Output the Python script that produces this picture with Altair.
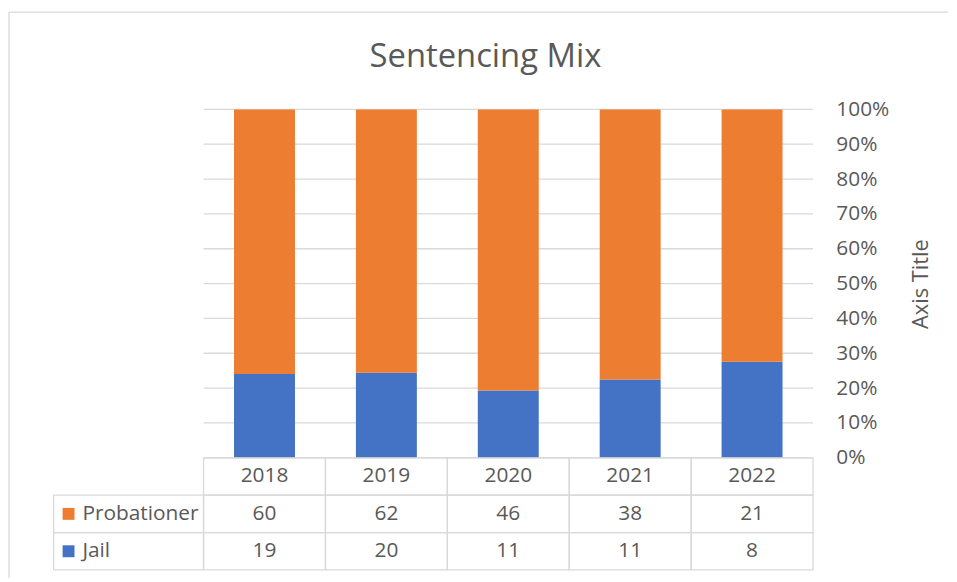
import altair as alt
import pandas as pd

# ---- data ----
years = [2018, 2019, 2020, 2021, 2022]
probationer = [60, 62, 46, 38, 21]
jail = [19, 20, 11, 11, 8]
series = ["Probationer", "Jail"]
series_colors = ["#ED7D31", "#4472C4"]
pct_ticks = [0.0, 0.1, 0.2, 0.3, 0.4, 0.5, 0.6, 0.7, 0.8, 0.9, 1.0]
title_text = "Sentencing Mix"
axis_title = "Axis Title"

# ---- layout (in scale units) ----
STEP = 122.8          # px per category
UNIT = 351.0          # px per 100%
X_MIN = 2017.5 - 196 / STEP
X_MAX = 2022.5
PLOT_W = round((X_MAX - X_MIN) * STEP)
PLOT_H = 472
Y_MIN = -(PLOT_H / UNIT - 1.0)
ROW_H = 113 / 3 / UNIT
LABEL_X0 = 2017.5 - 151 / STEP
SQUARE_X = 2017.5 - 136 / STEP
LABEL_TX = 2017.5 - 122 / STEP
BORDER_TOP = 1 + 98 / UNIT
BORDER_RIGHT = 2022.5 + 136 / STEP
TITLE_X = X_MIN + 480 / STEP
TITLE_Y = 1 + 43 / UNIT

TEXT = "#595959"
LINE = "#d9d9d9"
FONT = "Open Sans"

# ---- tables built from the arrays ----
bar_rows = []
for yr, p, j in zip(years, probationer, jail):
    tot = p + j
    bar_rows.append(dict(series="Jail", x0=yr - 0.25, x1=yr + 0.25, y0=0.0, y1=j / tot))
    bar_rows.append(dict(series="Probationer", x0=yr - 0.25, x1=yr + 0.25, y0=j / tot, y1=1.0))
bars_df = pd.DataFrame(bar_rows)

grid_df = pd.DataFrame({"y": pct_ticks, "x0": 2017.5, "x1": X_MAX})

cells = []
texts = []
for yr in years:
    cells.append(dict(x0=yr - 0.5, x1=yr + 0.5, y0=0.0, y1=-ROW_H))
    texts.append(dict(x=yr, y=-0.5 * ROW_H, label=str(yr)))
for r, (name, vals) in enumerate(zip(series, [probationer, jail])):
    top = -(r + 1) * ROW_H
    bot = -(r + 2) * ROW_H
    cells.append(dict(x0=LABEL_X0, x1=2017.5, y0=top, y1=bot))
    for yr, v in zip(years, vals):
        cells.append(dict(x0=yr - 0.5, x1=yr + 0.5, y0=top, y1=bot))
        texts.append(dict(x=yr, y=(top + bot) / 2, label=str(v)))
cells_df = pd.DataFrame(cells)
texts_df = pd.DataFrame(texts)

labels_df = pd.DataFrame({
    "series": series,
    "y": [-(r + 1.5) * ROW_H for r in range(len(series))],
    "xs": SQUARE_X,
    "xt": LABEL_TX,
})

border_df = pd.DataFrame([
    dict(x0=X_MIN, x1=X_MIN, y0=BORDER_TOP, y1=Y_MIN),
    dict(x0=X_MIN, x1=BORDER_RIGHT, y0=BORDER_TOP, y1=BORDER_TOP),
])

title_df = pd.DataFrame({"x": [TITLE_X], "y": [TITLE_Y], "label": [title_text]})

xs = alt.Scale(domain=[X_MIN, X_MAX], nice=False, zero=False)
ys = alt.Scale(domain=[Y_MIN, 1.0], nice=False, zero=False)
cs = alt.Scale(domain=series, range=series_colors)

y_axis = alt.Axis(
    orient="right", values=pct_ticks, format=".0%", grid=False, ticks=False,
    domain=False, labelPadding=23, labelFontSize=21, labelColor=TEXT, labelFont=FONT,
    labelBaseline="middle",
    title=axis_title, titleAngle=270, titleFontSize=22, titleFontWeight="normal",
    titleColor=TEXT, titleFont=FONT, titleX=108, titleY=175.5,
    titleAlign="center", titleBaseline="middle",
)


def X(field):
    return alt.X(field, type="quantitative", scale=xs, axis=None)


def Y(field):
    return alt.Y(field, type="quantitative", scale=ys, axis=y_axis)


grid = alt.Chart(grid_df).mark_rule(color=LINE, strokeWidth=1.3).encode(
    x=X("x0"), x2="x1:Q", y=Y("y"),
)

border = alt.Chart(border_df).mark_rule(color=LINE, strokeWidth=1.3).encode(
    x=X("x0"), x2="x1:Q", y=Y("y0"), y2="y1:Q",
)

bars = alt.Chart(bars_df).mark_rect().encode(
    x=X("x0"), x2="x1:Q", y=Y("y0"), y2="y1:Q",
    color=alt.Color("series:N", scale=cs, legend=None),
)

table = alt.Chart(cells_df).mark_rect(fill="white", fillOpacity=0, stroke=LINE, strokeWidth=1.3).encode(
    x=X("x0"), x2="x1:Q", y=Y("y0"), y2="y1:Q",
)

table_text = alt.Chart(texts_df).mark_text(
    fontSize=21, font=FONT, color=TEXT, align="center", baseline="middle"
).encode(x=X("x"), y=Y("y"), text="label:N")

squares = alt.Chart(labels_df).mark_square(size=144, opacity=1).encode(
    x=X("xs"), y=Y("y"),
    color=alt.Color("series:N", scale=cs, legend=None),
)

row_labels = alt.Chart(labels_df).mark_text(
    fontSize=21, font=FONT, color=TEXT, align="left", baseline="middle"
).encode(x=X("xt"), y=Y("y"), text="series:N")

title = alt.Chart(title_df).mark_text(
    fontSize=33, font=FONT, color=TEXT, align="center", baseline="alphabetic"
).encode(x=X("x"), y=Y("y"), text="label:N")

chart = alt.layer(grid, border, bars, table, table_text, squares, row_labels, title).properties(
    width=PLOT_W,
    height=PLOT_H,
    padding={"left": 0, "top": 1, "right": 0, "bottom": 0},
    background="white",
).configure_view(strokeWidth=0, stroke="transparent")

chart.save("out.html", embed_options={"renderer": "svg", "actions": False})
